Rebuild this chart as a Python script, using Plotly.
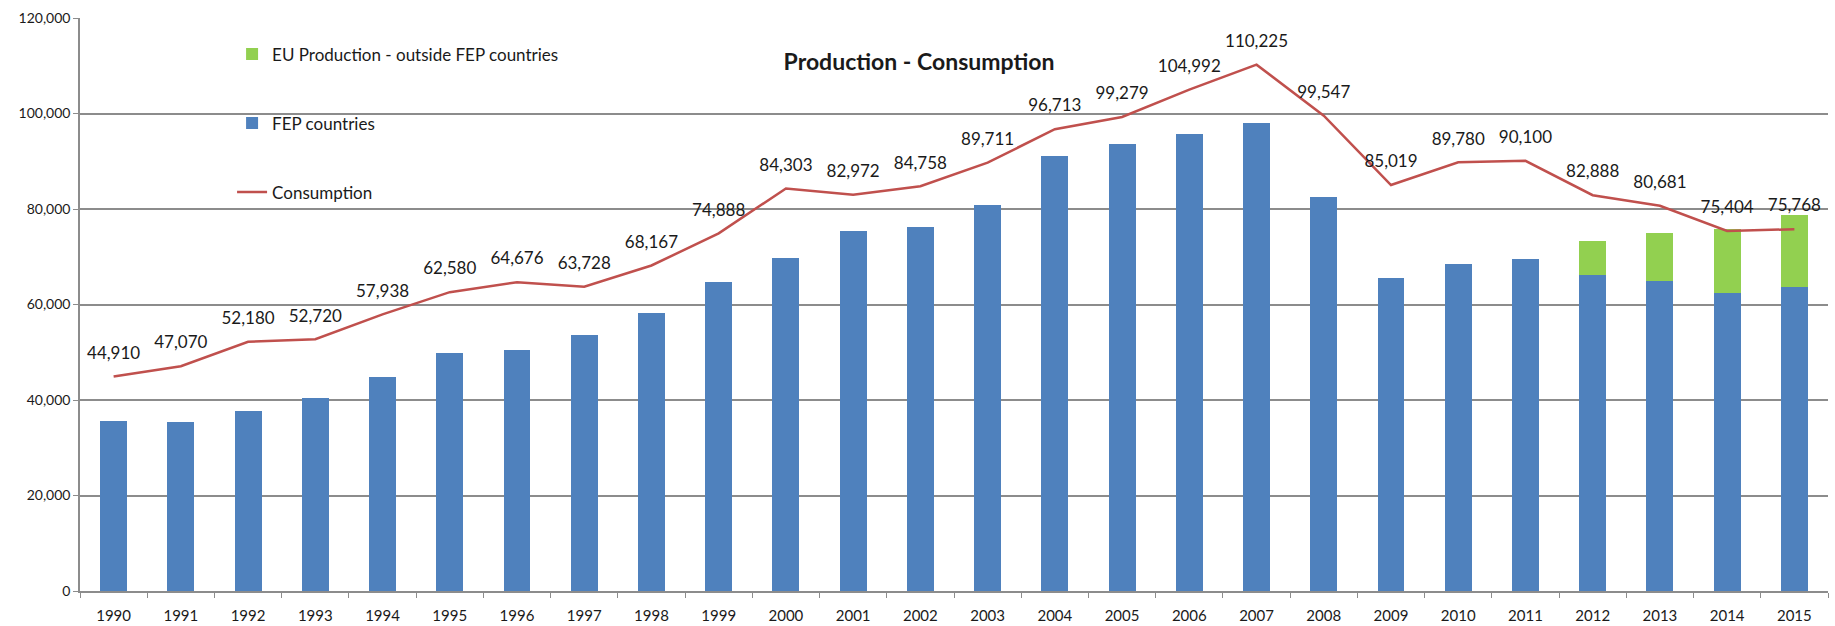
import plotly.graph_objects as go

years = [str(y) for y in range(1990, 2016)]
fep = [35500, 35300, 37800, 40350, 44900, 49750, 50500, 53650, 58250, 64700,
       69800, 75300, 76300, 80800, 91150, 93650, 95750, 98050, 82500, 65450,
       68550, 69450, 66100, 64950, 62450, 63700]
eu_outside = [0]*22 + [7200, 10100, 13450, 15000]
consumption = [44910, 47070, 52180, 52720, 57938, 62580, 64676, 63728, 68167, 74888,
               84303, 82972, 84758, 89711, 96713, 99279, 104992, 110225, 99547, 85019,
               89780, 90100, 82888, 80681, 75404, 75768]

FONT = "Lato"
TXT = "#1a1a1a"

fig = go.Figure()
fig.add_trace(go.Bar(
    x=years, y=fep, name="FEP countries", marker=dict(color="#4f81bd", line=dict(width=0)),
    legendgroup="b", legendrank=2, hoverinfo="x+y"))
fig.add_trace(go.Bar(
    x=years, y=eu_outside, name="EU Production - outside FEP countries",
    marker=dict(color="#92d050", line=dict(width=0)),
    legendgroup="a", legendrank=1, hoverinfo="x+y"))
fig.add_trace(go.Scatter(
    x=years, y=consumption, name="Consumption", mode="lines+markers+text",
    line=dict(color="#c0504d", width=2.5),
    marker=dict(size=20, color="rgba(0,0,0,0)", line=dict(width=0)),
    text=[f"{v:,}" for v in consumption], textposition="top center",
    textfont=dict(family=FONT, size=17, color=TXT),
    legendgroup="c", legendrank=3, cliponaxis=False))

fig.update_layout(
    width=1835, height=626,
    paper_bgcolor="white", plot_bgcolor="white",
    barmode="stack", bargap=0.6,
    margin=dict(l=80, r=7, t=18, b=35),
    font=dict(family=FONT, color=TXT),
    title=dict(text="<b>Production - Consumption</b>", x=919/1835, xanchor="center",
               y=1-62/626, yanchor="middle", font=dict(family=FONT, size=23, color=TXT)),
    legend=dict(x=0.087, y=0.968, xanchor="left", yanchor="top",
                font=dict(family=FONT, size=17, color=TXT),
                tracegroupgap=44, bgcolor="rgba(0,0,0,0)", traceorder="grouped"),
    showlegend=True,
)
fig.update_xaxes(
    type="category", range=[-0.5, len(years) - 0.5], automargin=False,
    showline=True, linecolor="#8c8c8c", linewidth=1.5,
    ticks="outside", tickson="boundaries", ticklen=5, tickcolor="#8c8c8c",
    ticklabelstandoff=10,
    tickfont=dict(family=FONT, size=15, color=TXT), showgrid=False,
)
fig.update_yaxes(
    range=[0, 120000], dtick=20000, tickformat=",", showgrid=True, automargin=False,
    gridcolor="#8c8c8c", gridwidth=1.5, showline=True, linecolor="#8c8c8c", linewidth=1.5,
    ticks="outside", ticklen=5, tickcolor="#8c8c8c", zeroline=False,
    tickfont=dict(family=FONT, size=14, color=TXT),
)

fig.write_html("out.html", config={"displayModeBar": False},
               post_script="document.body.style.margin='0';")
